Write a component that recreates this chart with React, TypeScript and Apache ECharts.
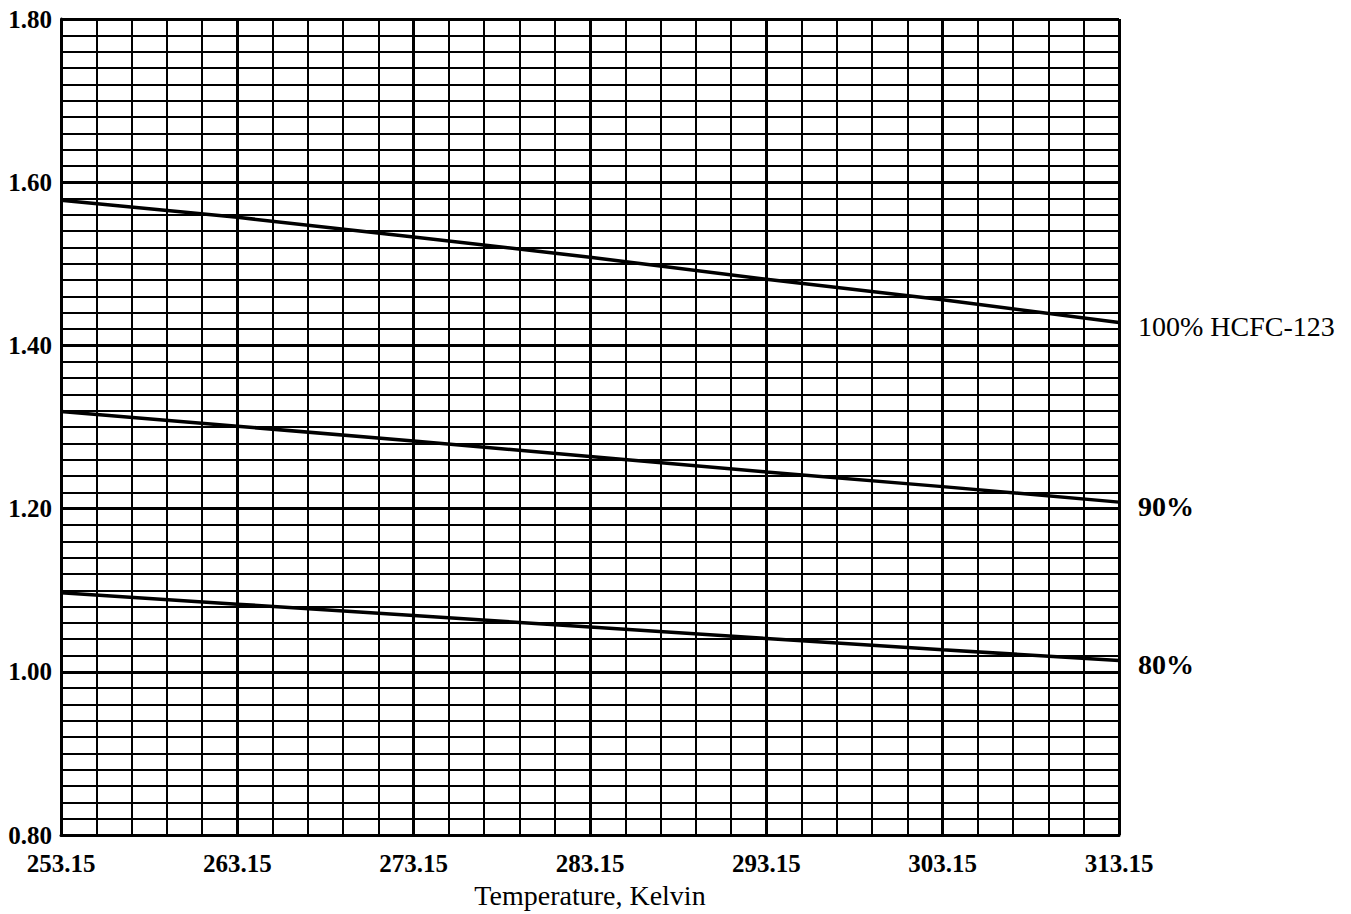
import React, { useEffect, useRef } from "react";
import * as echarts from "echarts";

const T0 = 253.15;
const temperatures = [253.15, 263.15, 273.15, 283.15, 293.15, 303.15, 313.15];
const hcfc100 = [1.578, 1.557, 1.533, 1.508, 1.481, 1.456, 1.428];
const hcfc90 = [1.319, 1.301, 1.283, 1.264, 1.245, 1.227, 1.208];
const hcfc80 = [1.097, 1.083, 1.069, 1.055, 1.041, 1.027, 1.014];
const seriesNames = ["100% HCFC-123", "90%", "80%"];
const xTickFormat = (v: number) => (v + T0).toFixed(2);
const yTickFormat = (v: number) => v.toFixed(2);

const FONT = "'Liberation Serif', 'DejaVu Serif', serif";

export default function App() {
  const ref = useRef<HTMLDivElement>(null);
  useEffect(() => {
    if (!ref.current) return;
    const chart = echarts.init(ref.current, undefined, { renderer: "svg" });
    const mk = (name: string, vals: number[]) => ({
      name,
      type: "line",
      data: temperatures.map((t, i) => [t - T0, vals[i]]),
      symbol: "none",
      lineStyle: { color: "#000", width: 3.5 },
      z: 5,
      endLabel: {
        show: true,
        formatter: (p: any) => p.seriesName,
        color: "#000",
        fontFamily: FONT,
        fontSize: 28,
        fontWeight: name === "100% HCFC-123" ? "normal" : "bold",
        offset: [11, 4],
      },
    });
    chart.setOption({
      animation: false,
      backgroundColor: "#fff",
      grid: { left: 61, right: 232, top: 19, bottom: 77, containLabel: false },
      xAxis: {
        type: "value",
        min: 0,
        max: 60,
        interval: 10,
        name: "Temperature, Kelvin",
        nameLocation: "middle",
        nameGap: 45,
        nameTextStyle: { color: "#000", fontFamily: FONT, fontSize: 28 },
        axisLine: { show: true, lineStyle: { color: "#000", width: 3 } },
        axisTick: { show: false },
        axisLabel: {
          formatter: xTickFormat,
          color: "#000",
          fontFamily: FONT,
          fontSize: 25,
          fontWeight: "bold",
          margin: 16,
        },
        splitLine: { show: true, lineStyle: { color: "#000", width: 3 } },
        minorTick: { show: false, splitNumber: 5 },
        minorSplitLine: { show: true, lineStyle: { color: "#000", width: 2 } },
      },
      yAxis: {
        type: "value",
        min: 0.8,
        max: 1.8,
        interval: 0.2,
        axisLine: { show: true, lineStyle: { color: "#000", width: 3 } },
        axisTick: { show: false },
        axisLabel: {
          formatter: yTickFormat,
          color: "#000",
          fontFamily: FONT,
          fontSize: 25,
          fontWeight: "bold",
          margin: 9,
        },
        splitLine: { show: true, lineStyle: { color: "#000", width: 3 } },
        minorTick: { show: false, splitNumber: 10 },
        minorSplitLine: { show: true, lineStyle: { color: "#000", width: 2 } },
      },
      series: [
        mk(seriesNames[0], hcfc100),
        mk(seriesNames[1], hcfc90),
        mk(seriesNames[2], hcfc80),
      ],
    });
    return () => chart.dispose();
  }, []);
  return (
    <div
      ref={ref}
      style={{ position: "fixed", left: 0, top: 0, width: 1351, height: 914, background: "#fff" }}
    />
  );
}
